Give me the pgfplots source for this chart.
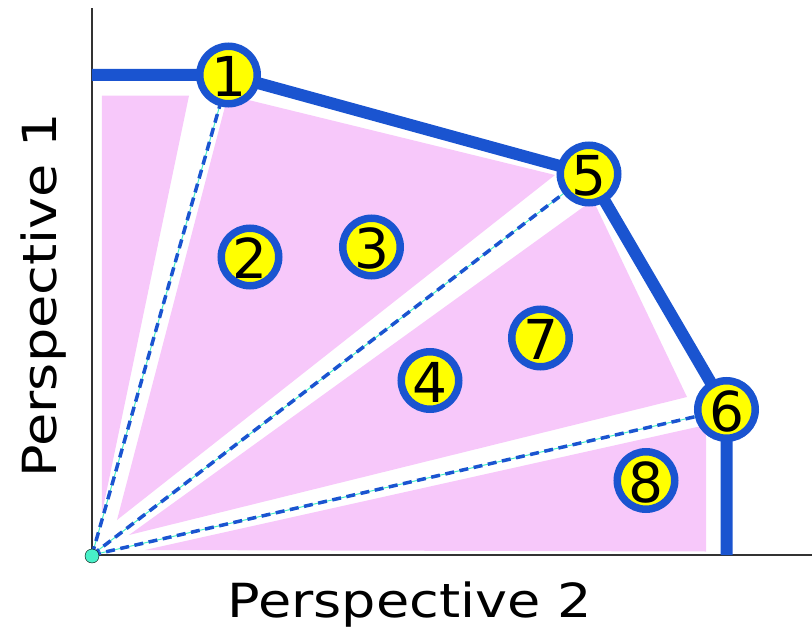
\documentclass[border=0pt]{standalone}
\usepackage{pgfplots}
\usepackage{pgfplotstable}
\pgfplotsset{compat=1.18}
\usepackage{fontspec}
\newfontfamily\labfont[FakeStretch=1.15]{DejaVu Sans}
\newfontfamily\digfont{DejaVu Sans}
\definecolor{pinkfill}{RGB}{247,200,250}
\definecolor{frontblue}{RGB}{26,84,208}
\definecolor{aqua}{RGB}{72,240,200}
\definecolor{circyellow}{RGB}{255,255,0}

\pgfplotstableread{
x y label
136.5 480 1
158 298 2
279.5 308 3
338 174.5 4
497 381 5
634.5 145.5 6
448.5 217 7
554 74.5 8
}\circles

\begin{document}
\begin{tikzpicture}
\path[use as bounding box] (-92pt,-75pt) rectangle (720pt,555pt);
\begin{axis}[
  x=1pt, y=1pt,
  xmin=0, xmax=720, ymin=0, ymax=547,
  axis lines=left,
  axis line style={-, line width=1.6pt, black!80},
  xtick=\empty, ytick=\empty,
  clip=false,
  xlabel={Perspective 2},
  ylabel={Perspective 1},
  every axis x label/.style={at={(axis cs:317.7,-62)}, anchor=base, font={\labfont\fontsize{47}{50}\selectfont}},
  every axis y label/.style={at={(axis cs:-35,260)}, rotate=90, anchor=base, font={\labfont\fontsize{47}{50}\selectfont}},
]
% pink regions
\addplot[fill=pinkfill, draw=none] coordinates {(10,459.3)(97,459.3)(10,42)} --cycle;
\addplot[fill=pinkfill, draw=none] coordinates {(136,460)(463,380)(25,35)} --cycle;
\addplot[fill=pinkfill, draw=none] coordinates {(501,355)(595,158)(37,20)} --cycle;
\addplot[fill=pinkfill, draw=none] coordinates {(53,5)(614,130)(614,3.5)} --cycle;
% rays from origin
\addplot[aqua, line width=1pt] coordinates {(0,0)(136.5,480)};
\addplot[aqua, line width=1pt] coordinates {(0,0)(497,381)};
\addplot[aqua, line width=1pt] coordinates {(0,0)(634.5,145.5)};
\addplot[frontblue, line width=3.5pt, dash pattern=on 9pt off 5.5pt] coordinates {(0,0)(136.5,480)};
\addplot[frontblue, line width=3.5pt, dash pattern=on 9pt off 5.5pt] coordinates {(0,0)(497,381)};
\addplot[frontblue, line width=3.5pt, dash pattern=on 9pt off 5.5pt] coordinates {(0,0)(634.5,145.5)};
% frontier
\addplot[frontblue, line width=12pt, line join=round] coordinates {(0,480)(136.5,480)(497,381)(634.5,145.5)(634.5,0)};
% numbered circles
\addplot[only marks, mark=*, mark size=28.75pt,
  mark options={fill=circyellow, draw=frontblue, line width=7.5pt},
  nodes near coords, point meta=explicit symbolic,
  nodes near coords align={center},
  every node near coord/.append style={anchor=center, yshift=-1.5pt, text=black, font={\digfont\fontsize{55}{60}\selectfont}}]
  table[x=x, y=y, meta=label] {\circles};
% origin dot
\addplot[only marks, mark=*, mark size=7pt, mark options={fill=aqua, draw=none}] coordinates {(0,-1)};
\end{axis}
\end{tikzpicture}
\end{document}
